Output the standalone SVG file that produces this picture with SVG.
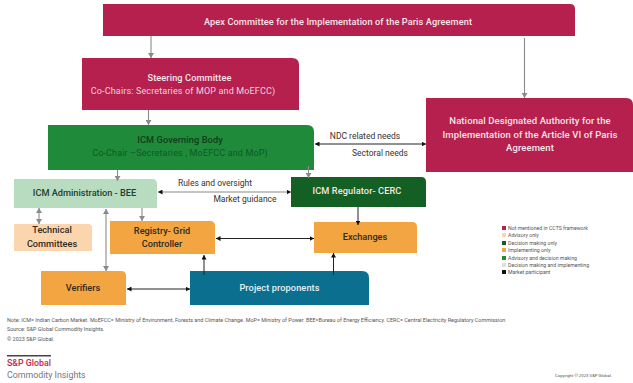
<svg xmlns="http://www.w3.org/2000/svg" width="633" height="383" viewBox="0 0 633 383">
<style>
text{font-family:"Roboto","Liberation Sans",sans-serif;text-anchor:middle}
.t{font-size:9.2px;font-weight:500;fill:#f6e6ea;letter-spacing:.1px}
.s{font-size:9px;fill:#f0d4dc;letter-spacing:.15px}
.d{font-size:9.2px;font-weight:500;fill:#2f2a22}
.l{font-size:8.5px;fill:#333}
.g{stroke:#8a8a8a;stroke-width:1.1;fill:none}
.k{stroke:#222;stroke-width:1;fill:none}
.n{font-size:5.43px;fill:#555;text-anchor:start}
.lg{font-size:5.2px;fill:#555;text-anchor:start}
.ag{marker-end:url(#ga)}
.as{marker-start:url(#gs)}
.ak{marker-end:url(#ka)}
.ks{marker-start:url(#ks)}
</style>
<defs>
<marker id="ga" markerWidth="6" markerHeight="6" refX="5" refY="3" orient="auto" markerUnits="userSpaceOnUse"><path d="M0 0L5 3L0 6z" fill="#8a8a8a"/></marker>
<marker id="gs" markerWidth="6" markerHeight="6" refX="1" refY="3" orient="auto" markerUnits="userSpaceOnUse"><path d="M6 0L1 3L6 6z" fill="#8a8a8a"/></marker>
<marker id="ka" markerWidth="5" markerHeight="5" refX="4.5" refY="2.5" orient="auto" markerUnits="userSpaceOnUse"><path d="M0 0L4.5 2.5L0 5z" fill="#111"/></marker>
<marker id="ks" markerWidth="5" markerHeight="5" refX=".5" refY="2.5" orient="auto" markerUnits="userSpaceOnUse"><path d="M5 0L.5 2.5L5 5z" fill="#111"/></marker>
</defs>
<rect width="633" height="383" fill="#fff"/>
<g id="apex"><path d="M103 4H570Q575 4 575 9V36H103z" fill="#b5204f"/><text class="t" x="338" y="25">Apex Committee for the Implementation of the Paris Agreement</text></g>
<g id="steering"><path d="M82 58H292Q299 58 299 65V110H82z" fill="#b5204f"/><text class="t" x="189.500" y="81">Steering Committee</text><text class="s" x="183" y="94">Co-Chairs: Secretaries of MOP and MoEFCC)</text></g>
<g id="governing"><path d="M48 125H307Q314 125 314 132V170H48z" fill="#1f8a3a"/><text class="t" x="180" y="143" style="fill:#0f3d1c">ICM Governing Body</text><text class="s" x="180" y="156" style="fill:#0c5a26">Co-Chair –Secretaries , MoEFCC and MoP)</text></g>
<g id="nda"><path d="M426 98H626Q633 98 633 105V172H426z" fill="#b5204f"/><text class="t" x="530" y="124" style="font-size:9.500px">National Designated Authority for the</text><text class="t" x="530" y="138" style="font-size:9.500px">Implementation of the Article VI of Paris</text><text class="t" x="530" y="151" style="font-size:9.500px">Agreement</text></g>
<g id="admin"><path d="M14 179H152Q157 179 157 184V208H14z" fill="#b7dcc0"/><text class="d" x="84.500" y="196" style="fill:#24402f">ICM Administration - BEE</text></g>
<g id="regulator"><path d="M291 177H421Q426 177 426 182V207H291z" fill="#135f24"/><text class="t" x="357" y="194">ICM Regulator- CERC</text></g>
<g id="technical"><path d="M14 224H88Q92 224 92 228V251H14z" fill="#fad5ae"/><text class="d" x="52" y="233">Technical</text><text class="d" x="52" y="247">Committees</text></g>
<g id="registry"><path d="M110 221H210Q215 221 215 226V254H110z" fill="#f2a541"/><text class="d" x="162" y="234">Registry- Grid</text><text class="d" x="162" y="247">Controller</text></g>
<g id="exchanges"><path d="M314 222H412Q417 222 417 227V253H314z" fill="#f2a541"/><text class="d" x="365" y="240">Exchanges</text></g>
<g id="verifiers"><path d="M41 271H121Q126 271 126 276V305H41z" fill="#f2a541"/><text class="d" x="83" y="291">Verifiers</text></g>
<g id="project"><path d="M190 271H362Q369 271 369 278V305H190z" fill="#0b6f8f"/><text class="t" x="279.500" y="291" style="fill:#e6f2f5">Project proponents</text></g>
<g id="connectors">
<path class="g ag" d="M151 36V58"/>
<path class="g ag" d="M148.500 110V125"/>
<path class="g ag" d="M524.500 38V98"/>
<path class="g ag" d="M117.500 170V181"/>
<path class="g ag" d="M308.500 166V178"/>
<path class="k ak ks" d="M315 144H426"/>
<path class="g ak ks" d="M158 192H291"/>
<path class="g ag as" d="M39 208V224"/>
<path class="g ag as" d="M106 209V271"/>
<path class="g ag" d="M142 208V221"/>
<path class="k ak ks" d="M216 238.500H314"/>
<path class="k ak ks" d="M127 289H190"/>
<path class="k ak" d="M204 275V255" stroke-width="1.400"/>
<path class="k ak" d="M358 207V225" stroke-width="1.400"/>
<path class="k ak" d="M333.500 275V253" stroke-width="1.400"/>
</g>
<g id="labels">
<text class="l" x="215" y="186">Rules and oversight</text>
<text class="l" x="245" y="202">Market guidance</text>
<text class="l" x="365" y="139">NDC related needs</text>
<text class="l" x="380" y="156">Sectoral needs</text>
</g>
<g id="legend">
<rect x="502" y="226" width="4" height="4" fill="#b5204f"/><text class="lg" x="508" y="230">Not mentioned in CCTS framework</text>
<rect x="502" y="233" width="4" height="4" fill="#fad5ae"/><text class="lg" x="508" y="237">Advisory only</text>
<rect x="502" y="241" width="4" height="4" fill="#135f24"/><text class="lg" x="508" y="245">Decision making only</text>
<rect x="502" y="248" width="4" height="4" fill="#f2a541"/><text class="lg" x="508" y="252">Implementing only</text>
<rect x="502" y="256" width="4" height="4" fill="#1f8a3a"/><text class="lg" x="508" y="260">Advisory and decision making</text>
<rect x="502" y="263" width="4" height="4" fill="#d5e5d8"/><text class="lg" x="508" y="267">Decision making and implementing</text>
<rect x="502" y="270" width="4" height="4" fill="#111"/><text class="lg" x="508" y="274">Market participant</text>
</g>
<g id="footer">
<text class="n" x="7" y="322">Note: ICM= Indian Carbon Market. MoEFCC= Ministry of Environment, Forests and Climate Change. MoP= Ministry of Power. BEE=Bureau of Energy Efficiency. CERC= Central Electricity Regulatory Commission</text>
<text class="n" x="7" y="331">Source: S&amp;P Global Commodity Insights.</text>
<text class="n" x="7" y="341">© 2023 S&amp;P Global.</text>
<rect x="7" y="355" width="44" height="1.500" fill="#444"/>
<text x="7" y="366" style="text-anchor:start;font-size:8.800px;font-weight:500;fill:#c0274f">S&amp;P Global</text>
<text x="7" y="378" style="text-anchor:start;font-size:8.800px;fill:#777">Commodity Insights</text>
<text x="555" y="377" style="text-anchor:start;font-size:4.300px;fill:#555">Copyright © 2023 S&amp;P Global.</text>
</g>
</svg>
